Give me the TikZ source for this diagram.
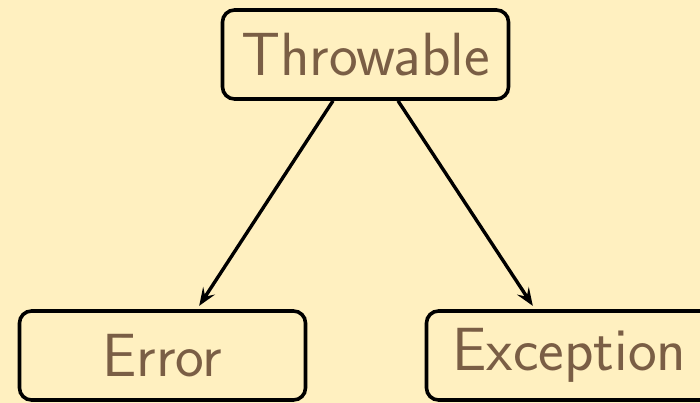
\documentclass[tikz,border=0pt]{standalone}
\usetikzlibrary{arrows.meta}
\definecolor{bgcream}{RGB}{255,240,192}
\definecolor{txtbrown}{RGB}{122,94,69}
\tikzset{
  classbox/.style={draw=black, line width=3.6pt, rounded corners=12pt,
    minimum width=286pt, minimum height=89pt, inner sep=0pt,
    text=txtbrown, font=\sffamily\fontsize{61}{64}\selectfont},
  inherits/.style={line width=3.4pt, -{Stealth[length=18pt,width=14pt,inset=7pt]}, shorten >=4pt}
}
\begin{document}
\begin{tikzpicture}[x=1pt,y=1pt]
  \fill[bgcream] (0,0) rectangle (700,-403);
  \useasboundingbox (0,0) rectangle (700,-403);
  \node[classbox] (t) at (365.5,-54.5) {Throwable};
  \node[classbox] (e) at (162.5,-355.5) {Error};
  \node[classbox] (x) at (569.5,-355.5) {Exception};
  \draw[inherits] ([xshift=-32.5pt]t.south) -- ([xshift=34.5pt]e.north);
  \draw[inherits] ([xshift=32.5pt]t.south) -- ([xshift=-34.5pt]x.north);
\end{tikzpicture}
\end{document}
